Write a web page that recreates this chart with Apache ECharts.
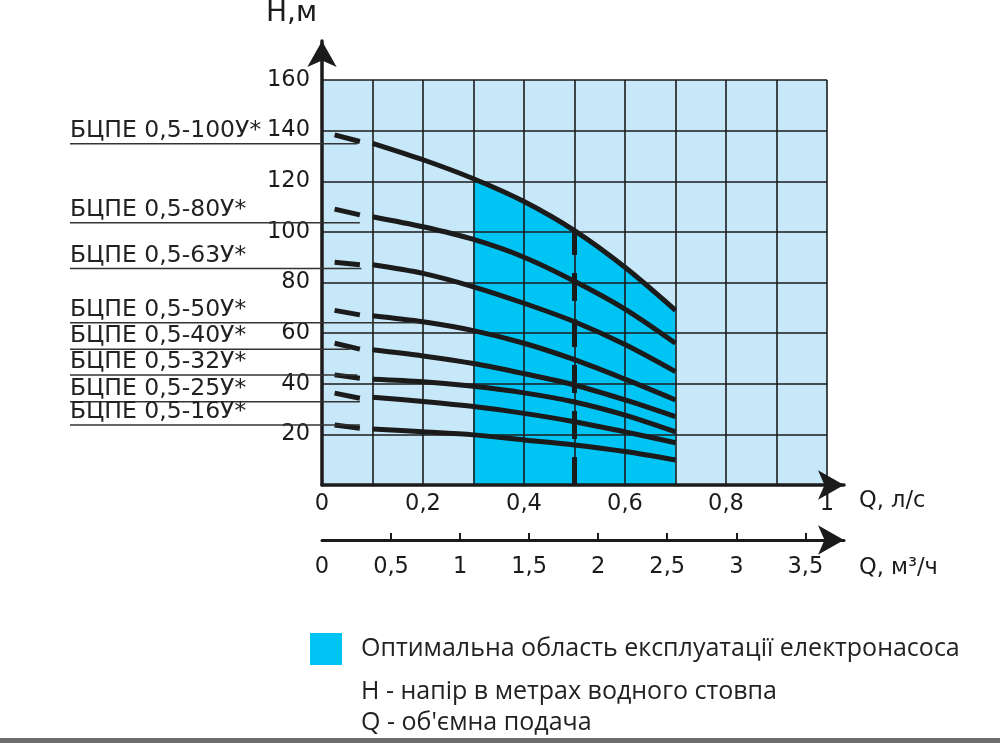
<!DOCTYPE html>
<html>
<head>
<meta charset="utf-8">
<title>БЦПЕ 0,5</title>
<script src="https://cdn.jsdelivr.net/npm/echarts@6/dist/echarts.min.js"></script>
<style>
  html, body { margin: 0; padding: 0; background: #fff; }
  #chart { width: 1000px; height: 743px; }
</style>
</head>
<body>
<div id="chart"></div>
<script>
// pump models, top to bottom
const models = [
  "БЦПЕ 0,5-100У*", "БЦПЕ 0,5-80У*", "БЦПЕ 0,5-63У*", "БЦПЕ 0,5-50У*",
  "БЦПЕ 0,5-40У*", "БЦПЕ 0,5-32У*", "БЦПЕ 0,5-25У*", "БЦПЕ 0,5-16У*"
];

// short lead-in dash of every curve
const leadQ = [0.025, 0.075];
const leadH = [
  [138.3, 135.7], [109, 106.7], [88, 87], [69, 67.2],
  [56, 53.7], [43.5, 42.2], [36.3, 34.3], [23.7, 22.4]
];

// main curves, Q in l/s
const curveQ = [0.1, 0.2, 0.3, 0.4, 0.5, 0.6, 0.7];
const curveH = [
  [135, 128.5, 121, 112, 100.5, 86, 69],
  [106, 102, 97, 90, 80.5, 69.5, 56],
  [87, 83.6, 78.3, 71.8, 64.5, 55.5, 44.8],
  [66.9, 64.5, 61, 56, 49.5, 41.8, 33.6],
  [53.4, 51, 48, 44, 39.5, 33.6, 27],
  [41.8, 40.8, 39, 36.4, 32.8, 27.6, 21],
  [34.7, 33, 31, 28.3, 25, 21, 16.7],
  [22.1, 21, 19.8, 17.8, 15.8, 13.2, 9.9]
];

// where the name underlines sit (H) and end (Q)
const tagH = [134.8, 103.6, 85.5, 64.1, 53.6, 43.5, 32.9, 23.7];
const tagEndQ = [0.07, 0.075, 0.078, 0.19, 0.055, 0.07, 0.075, 0.075];

const optimalFrom = 0.3;   // optimal range starts here, ends at the last curve point
const nominalQ = 0.5;      // dashed line
const m3hTicks = [0, 0.5, 1, 1.5, 2, 2.5, 3, 3.5];

const areaName = "Оптимальна область експлуатації електронасоса";
const notes = ["Н - напір в метрах водного стовпа", "Q - об'ємна подача"];

const ink = "#1b1b1b";
const lightBlue = "#c7e8f9";
const cyan = "#00c4f3";
const numFont = "DejaVu Sans";
const textFont = "Open Sans";
const comma = v => String(v).replace(".", ",");

const pairs = (qs, hs) => qs.map((q, i) => [q, hs[i]]);

const optimalData = pairs(curveQ, curveH[0]).filter(p => p[0] >= optimalFrom);
const nominalH = curveH[0][curveQ.indexOf(nominalQ)];

const series = [
  {
    name: areaName,
    type: "line",
    data: optimalData,
    smooth: 0.3,
    symbol: "none",
    lineStyle: { width: 0 },
    areaStyle: { color: cyan, opacity: 1 },
    itemStyle: { color: cyan },
    z: 1,
    silent: true
  }
];

models.forEach((name, i) => {
  series.push({
    type: "line",
    data: pairs(leadQ, leadH[i]),
    symbol: "none",
    lineStyle: { color: ink, width: 5, cap: "butt" },
    z: 5,
    silent: true
  });
  series.push({
    type: "line",
    data: pairs(curveQ, curveH[i]),
    smooth: 0.3,
    symbol: "none",
    lineStyle: { color: ink, width: 5, cap: "butt" },
    z: 5,
    silent: true
  });
});

series.push({
  type: "line",
  data: [[nominalQ, 0], [nominalQ, nominalH]],
  symbol: "none",
  lineStyle: { color: ink, width: 5, type: [28, 18], cap: "butt" },
  z: 5,
  silent: true
});

const option = {
  animation: false,
  backgroundColor: "#fff",
  grid: [
    // plot
    { left: 322, right: 173, top: 80, bottom: 258, show: true,
      backgroundColor: lightBlue, borderWidth: 0, z: 0 },
    // frame for the arrowed axes
    { left: 322, right: 156, top: 41, bottom: 258 },
    // second flow scale
    { left: 322, right: 156, top: 440, bottom: 203 }
  ],
  legend: {
    data: [areaName],
    left: 305,
    top: 628,
    itemWidth: 32,
    itemHeight: 32,
    icon: "rect",
    selectedMode: false,
    textStyle: { fontFamily: textFont, fontSize: 25, color: "#222", padding: [8, 0, 0, 14] }
  },
  xAxis: [
    {
      gridIndex: 0, type: "value", min: 0, max: 1, interval: 0.1, z: 2,
      axisLine: { show: false },
      axisTick: { show: false },
      splitLine: { show: true, lineStyle: { color: ink, width: 1.6 } },
      axisLabel: {
        margin: 8, color: ink, fontFamily: numFont, fontSize: 22.5,
        formatter: v => (Math.round(v * 10) % 2 ? "" : comma(v))
      }
    },
    {
      gridIndex: 1, type: "value", min: 0, max: 1, z: 6,
      name: "Q, л/с", nameLocation: "end", nameGap: 15,
      nameTextStyle: { color: ink, fontFamily: numFont, fontSize: 22.5,
        verticalAlign: "top", padding: [5, 0, 0, 0] },
      axisLine: { show: true, symbol: ["none", "arrow"], symbolSize: [22, 26],
        lineStyle: { color: ink, width: 3.5 } },
      axisTick: { show: false },
      axisLabel: { show: false },
      splitLine: { show: false }
    },
    {
      gridIndex: 2, type: "value", min: 0, max: 3.78, position: "bottom", z: 6,
      name: "Q, м³/ч", nameLocation: "end", nameGap: 15,
      nameTextStyle: { color: ink, fontFamily: numFont, fontSize: 22.5,
        verticalAlign: "top", padding: [17, 0, 0, 0] },
      axisLine: { show: true, symbol: ["none", "arrow"], symbolSize: [22, 26],
        lineStyle: { color: ink, width: 3 } },
      axisTick: { show: true, inside: true, length: 7, customValues: m3hTicks.slice(1),
        lineStyle: { color: ink, width: 2 } },
      axisLabel: { customValues: m3hTicks, margin: 16, color: ink, fontFamily: numFont,
        fontSize: 22.5, formatter: comma },
      splitLine: { show: false }
    }
  ],
  yAxis: [
    {
      gridIndex: 0, type: "value", min: 0, max: 160, interval: 20, z: 2,
      axisLine: { show: false },
      axisTick: { show: false },
      splitLine: { show: true, lineStyle: { color: ink, width: 1.6 } },
      axisLabel: { showMinLabel: false, margin: 12, color: ink, fontFamily: numFont, fontSize: 22.5 }
    },
    {
      gridIndex: 1, type: "value", min: 0, max: 1, z: 6,
      name: "Н,м", nameLocation: "end", nameGap: 13,
      nameTextStyle: { color: ink, fontFamily: numFont, fontSize: 28, align: "right",
        padding: [0, 5, 0, 0] },
      axisLine: { show: true, symbol: ["none", "arrow"], symbolSize: [22, 26],
        lineStyle: { color: ink, width: 3.5 } },
      axisTick: { show: false },
      axisLabel: { show: false },
      splitLine: { show: false }
    },
    {
      gridIndex: 2, type: "value", show: false
    }
  ],
  series: series
};

const chart = echarts.init(document.getElementById("chart"));
chart.setOption(option);

// name tags on the left, with their underlines
const graphics = [];
models.forEach((name, i) => {
  const end = chart.convertToPixel({ gridIndex: 0 }, [tagEndQ[i], tagH[i]]);
  graphics.push({
    type: "line", z: 7, silent: true,
    shape: { x1: 70, y1: end[1], x2: end[0], y2: end[1] },
    style: { stroke: "#333", lineWidth: 1.5 }
  });
  graphics.push({
    type: "text", z: 7, silent: true, x: 70, y: end[1] - 1,
    style: { text: name, font: "23.5px '" + numFont + "'", fill: "#222", verticalAlign: "bottom" }
  });
});
notes.forEach((t, i) => {
  graphics.push({
    type: "text", silent: true, x: 361, y: 692 + i * 31,
    style: { text: t, font: "25px '" + textFont + "'", fill: "#222", verticalAlign: "middle" }
  });
});
graphics.push({
  type: "rect", silent: true,
  shape: { x: 0, y: 738, width: 1000, height: 5 },
  style: { fill: "#6e6e6e" }
});
chart.setOption({ graphic: graphics });
</script>
</body>
</html>
